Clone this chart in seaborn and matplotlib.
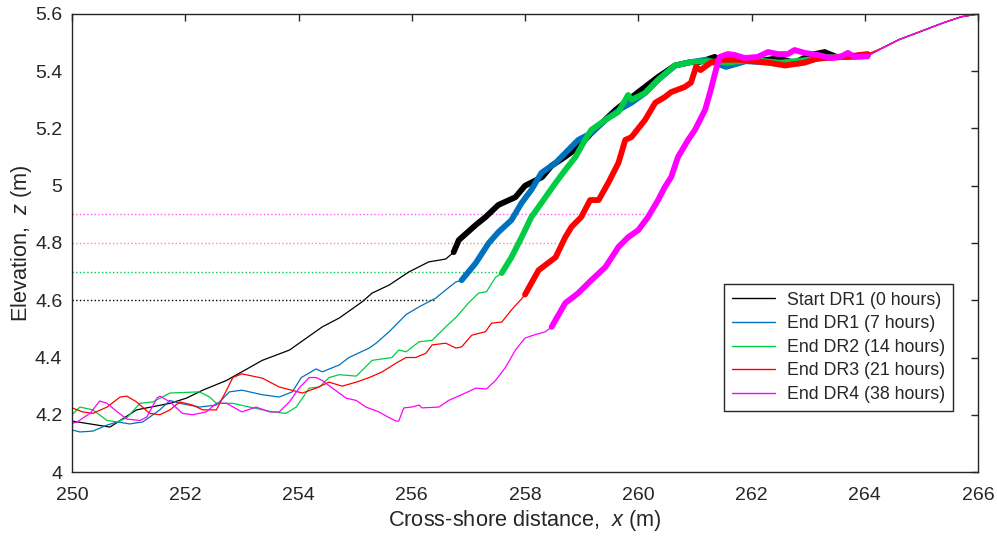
import pandas as pd
import matplotlib
matplotlib.use('Agg')
import matplotlib.pyplot as plt
import seaborn as sns

# 剖面数据 (x: 离岸距离, z: 高程)
black_x = [250.0, 250.67, 251.14, 251.73, 252.02, 252.31, 252.73, 253.36, 253.84, 254.42, 254.72, 255.12, 255.3, 255.6,
           255.95, 256.3, 256.6, 256.74, 256.83, 257.13, 257.3, 257.53, 257.83, 258.0, 258.3, 258.47, 258.7, 258.94,
           259.17, 259.6, 260.0, 260.35, 260.65, 260.93, 261.05, 261.35, 261.5, 261.8, 262.1, 262.46, 262.76, 263.04,
           263.29, 263.5, 263.8, 264.05, 264.3, 264.6, 265.0, 265.4, 265.7, 266.0]
black_z = [4.178, 4.157, 4.217, 4.24, 4.258, 4.286, 4.32, 4.39, 4.426, 4.507, 4.538, 4.594, 4.625, 4.653,
           4.699, 4.734, 4.744, 4.768, 4.81, 4.863, 4.89, 4.933, 4.96, 5.0, 5.03, 5.07, 5.10, 5.135,
           5.184, 5.265, 5.327, 5.38, 5.42, 5.432, 5.43, 5.45, 5.43, 5.44, 5.435, 5.445, 5.43, 5.457,
           5.467, 5.45, 5.453, 5.457, 5.48, 5.51, 5.54, 5.57, 5.59, 5.6]

blue_x = [250.0, 250.14, 250.37, 250.62, 250.8, 251.02, 251.25, 251.55, 251.73, 251.9, 252.25, 252.55, 252.78, 253.0,
          253.36, 253.66, 253.89, 254.05, 254.31, 254.42, 254.72, 254.89, 255.25, 255.37, 255.6, 255.9, 256.13, 256.42,
          256.6, 256.78, 256.88, 257.13, 257.36, 257.53, 257.76, 257.94, 258.11, 258.29, 258.54, 258.71, 258.94, 259.17,
          259.42, 259.7, 259.88, 260.12, 260.35, 260.65, 260.93, 261.2, 261.55, 261.9, 262.3, 262.6, 263.0, 263.4,
          263.8, 264.05, 264.3, 264.6, 265.0, 265.4, 265.7, 266.0]
blue_z = [4.147, 4.14, 4.143, 4.164, 4.175, 4.168, 4.175, 4.217, 4.25, 4.24, 4.227, 4.234, 4.28, 4.286,
          4.27, 4.262, 4.28, 4.33, 4.36, 4.35, 4.374, 4.40, 4.433, 4.45, 4.49, 4.55, 4.577, 4.607,
          4.636, 4.664, 4.67, 4.73, 4.8, 4.838, 4.88, 4.94, 4.985, 5.045, 5.08, 5.114, 5.16, 5.184,
          5.23, 5.27, 5.29, 5.324, 5.37, 5.42, 5.432, 5.44, 5.415, 5.435, 5.43, 5.425, 5.44, 5.45,
          5.45, 5.455, 5.48, 5.51, 5.54, 5.57, 5.59, 5.6]

green_x = [250.0, 250.14, 250.37, 250.62, 250.8, 250.97, 251.2, 251.43, 251.73, 252.25, 252.43, 252.55, 252.84, 253.13,
           253.54, 253.78, 253.96, 254.19, 254.37, 254.54, 254.72, 255.02, 255.3, 255.65, 255.77, 255.9, 256.13, 256.36,
           256.6, 256.78, 257.0, 257.18, 257.32, 257.48, 257.59, 257.76, 257.94, 258.11, 258.29, 258.54, 258.71, 258.89,
           259.06, 259.17, 259.42, 259.65, 259.82, 259.88, 260.12, 260.35, 260.65, 260.93, 261.2, 261.6, 262.0, 262.5,
           263.0, 263.5, 264.05, 264.3, 264.6, 265.0, 265.4, 265.7, 266.0]
green_z = [4.2, 4.227, 4.217, 4.18, 4.175, 4.19, 4.24, 4.245, 4.276, 4.28, 4.262, 4.24, 4.24, 4.227,
           4.21, 4.205, 4.227, 4.293, 4.297, 4.33, 4.34, 4.335, 4.39, 4.4, 4.426, 4.42, 4.455, 4.46,
           4.507, 4.54, 4.59, 4.625, 4.63, 4.68, 4.695, 4.75, 4.82, 4.89, 4.94, 5.01, 5.055, 5.10,
           5.16, 5.195, 5.23, 5.258, 5.317, 5.3, 5.324, 5.37, 5.42, 5.432, 5.435, 5.43, 5.44, 5.43,
           5.44, 5.45, 5.455, 5.48, 5.51, 5.54, 5.57, 5.59, 5.6]

red_x = [250.0, 250.19, 250.37, 250.62, 250.85, 250.97, 251.14, 251.37, 251.55, 251.73, 251.9, 252.13, 252.31, 252.55,
         252.73, 252.84, 253.0, 253.36, 253.66, 254.07, 254.31, 254.54, 254.77, 255.02, 255.25, 255.48, 255.72, 255.9,
         256.07, 256.25, 256.36, 256.6, 256.78, 256.88, 257.06, 257.3, 257.41, 257.59, 257.76, 257.94, 258.0, 258.24,
         258.54, 258.71, 258.82, 258.99, 259.15, 259.3, 259.47, 259.65, 259.77, 259.88, 260.12, 260.3, 260.47, 260.58,
         260.82, 260.93, 261.02, 261.1, 261.28, 261.46, 261.63, 261.76, 262.29, 262.59, 262.94, 263.17, 263.64, 264.05,
         264.3, 264.6, 265.0, 265.4, 265.7, 266.0]
red_z = [4.224, 4.21, 4.205, 4.227, 4.262, 4.265, 4.245, 4.205, 4.2, 4.217, 4.245, 4.234, 4.217, 4.217,
         4.286, 4.33, 4.343, 4.328, 4.297, 4.276, 4.293, 4.314, 4.30, 4.314, 4.33, 4.35, 4.38, 4.4,
         4.4, 4.415, 4.444, 4.45, 4.433, 4.437, 4.478, 4.49, 4.52, 4.524, 4.566, 4.605, 4.62, 4.705,
         4.75, 4.82, 4.856, 4.89, 4.95, 4.95, 5.01, 5.08, 5.16, 5.17, 5.23, 5.29, 5.31, 5.327,
         5.345, 5.36, 5.415, 5.404, 5.43, 5.44, 5.44, 5.44, 5.43, 5.42, 5.43, 5.445, 5.45, 5.46,
         5.48, 5.51, 5.54, 5.57, 5.59, 5.6]

magenta_x = [250.0, 250.09, 250.32, 250.49, 250.62, 250.8, 250.97, 251.2, 251.32, 251.5, 251.55, 251.73, 251.95, 252.13,
             252.37, 252.55, 252.73, 253.0, 253.25, 253.49, 253.66, 253.84, 254.01, 254.19, 254.31, 254.42, 254.6,
             254.84, 255.02, 255.19, 255.42, 255.6, 255.72, 255.77, 255.86, 256.0, 256.13, 256.18, 256.48, 256.65,
             256.88, 257.13, 257.32, 257.48, 257.66, 257.83, 258.0, 258.18, 258.36, 258.47, 258.71, 258.94, 259.17,
             259.42, 259.65, 259.82, 260.0, 260.17, 260.35, 260.47, 260.58, 260.7, 260.88, 261.0, 261.18, 261.28,
             261.37, 261.44, 261.58, 261.7, 261.88, 262.11, 262.29, 262.46, 262.64, 262.76, 262.94, 263.17, 263.4,
             263.57, 263.7, 263.82, 264.05, 264.3, 264.6, 265.0, 265.4, 265.7, 266.0]
magenta_z = [4.17, 4.175, 4.205, 4.248, 4.24, 4.21, 4.185, 4.18, 4.192, 4.258, 4.265, 4.245, 4.205, 4.2,
             4.21, 4.24, 4.24, 4.21, 4.227, 4.21, 4.21, 4.245, 4.293, 4.33, 4.33, 4.32, 4.293,
             4.258, 4.25, 4.227, 4.21, 4.19, 4.178, 4.178, 4.224, 4.227, 4.234, 4.224, 4.227, 4.25,
             4.27, 4.293, 4.29, 4.32, 4.367, 4.426, 4.468, 4.48, 4.49, 4.507, 4.59, 4.625, 4.67,
             4.716, 4.786, 4.82, 4.845, 4.89, 4.95, 4.996, 5.03, 5.1, 5.16, 5.195, 5.265, 5.335,
             5.404, 5.45, 5.46, 5.457, 5.446, 5.45, 5.467, 5.46, 5.46, 5.474, 5.464, 5.457, 5.446,
             5.45, 5.464, 5.45, 5.452, 5.48, 5.51, 5.54, 5.57, 5.59, 5.6]

labels = ['Start DR1 (0 hours)', 'End DR1 (7 hours)', 'End DR2 (14 hours)',
          'End DR3 (21 hours)', 'End DR4 (38 hours)']
thick_start = [256.74, 256.88, 257.59, 258.0, 258.47]
thick_end = 264.05

# 参考水平线
ref_levels = [4.6, 4.7, 4.8, 4.9]
ref_ends = [256.4, 257.6, 258.55, 260.1]

colors = ['#000000', '#0072BD', '#00CC44', '#FF0000', '#FF00FF']
ref_colors = ['#000000', '#00CC44', '#FF8C8C', '#FF55FF']

sns.set_theme(style='white')
plt.rcParams['font.family'] = ['Liberation Sans', 'DejaVu Sans']
plt.rcParams['mathtext.fontset'] = 'custom'
plt.rcParams['mathtext.it'] = 'Liberation Sans:italic'
plt.rcParams['mathtext.rm'] = 'Liberation Sans'

fig = plt.figure(figsize=(9.97, 5.37), dpi=100)
ax = fig.add_axes([0.0722, 0.121, 0.9088, 0.853])

ax.hlines(ref_levels, 250, ref_ends, colors=ref_colors, linestyles=':', linewidth=1.0)

all_x = [black_x, blue_x, green_x, red_x, magenta_x]
all_z = [black_z, blue_z, green_z, red_z, magenta_z]
handles = []
for xs, zs, c, lab, x0 in zip(all_x, all_z, colors, labels, thick_start):
    df = pd.DataFrame({'x': xs, 'z': zs})
    thin1 = df[df.x <= x0]
    thick = df[(df.x >= x0) & (df.x <= thick_end)]
    thin2 = df[df.x >= thick_end]
    sns.lineplot(data=thin1, x='x', y='z', sort=False, estimator=None, color=c, lw=0.9, ax=ax)
    sns.lineplot(data=thick, x='x', y='z', sort=False, estimator=None, color=c, lw=4.2, ax=ax,
                 solid_capstyle='round', solid_joinstyle='round')
    sns.lineplot(data=thin2, x='x', y='z', sort=False, estimator=None, color=c, lw=0.9, ax=ax)
    handles.append(plt.Line2D([], [], color=c, lw=1.0, label=lab))

ax.set_xlim(250, 266)
ax.set_ylim(4, 5.6)
ax.set_xticks(range(250, 267, 2))
ax.set_yticks([4, 4.2, 4.4, 4.6, 4.8, 5, 5.2, 5.4, 5.6])
ax.set_yticklabels(['4', '4.2', '4.4', '4.6', '4.8', '5', '5.2', '5.4', '5.6'])
ax.tick_params(direction='in', length=5, width=1, top=True, right=True, colors='#262626',
               labelsize=14, labelcolor='#262626')
ax.tick_params(axis='x', pad=11)
ax.tick_params(axis='y', pad=7)
for s in ax.spines.values():
    s.set_color('#262626')
    s.set_linewidth(1.0)
ax.set_xlabel('Cross-shore distance,  $x$ (m)', fontsize=15.7, color='#262626', labelpad=3)
ax.set_ylabel('Elevation,  $z$ (m)', fontsize=15.7, color='#262626', labelpad=0.5)

leg = ax.legend(handles=handles, loc='lower right', bbox_to_anchor=(0.9724, 0.1332), fontsize=12.8,
                frameon=True, fancybox=False, edgecolor='#262626', framealpha=1, handlelength=2.45,
                handletextpad=0.65, labelspacing=0.37, borderpad=0.45, borderaxespad=0)
leg.get_frame().set_linewidth(1.0)

fig.savefig('out.png', dpi=100)
